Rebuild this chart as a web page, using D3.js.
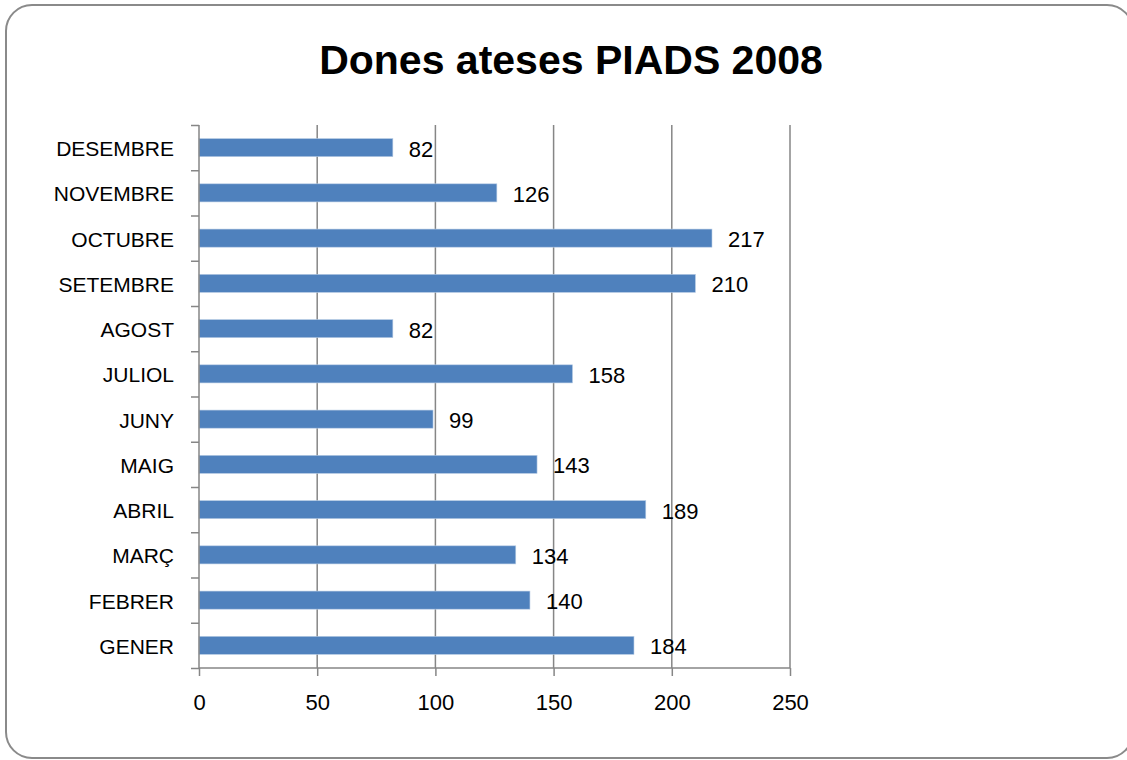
<!DOCTYPE html>
<meta charset="utf-8">
<script src="https://cdn.jsdelivr.net/npm/d3@7/dist/d3.min.js"></script>
<style>
    body { margin: 0; background: #fff; }
    svg text { font-family: "Liberation Sans", Arial, sans-serif; fill: #000; }
</style>
<svg id="chart" width="1127" height="760"></svg>
<script>
    // months from bottom (GENER) to top (DESEMBRE)
    var months = ["GENER", "FEBRER", "MARÇ", "ABRIL", "MAIG", "JUNY",
        "JULIOL", "AGOST", "SETEMBRE", "OCTUBRE", "NOVEMBRE", "DESEMBRE"];
    var values = [184, 140, 134, 189, 143, 99, 158, 82, 210, 217, 126, 82];
    var xTicks = [0, 50, 100, 150, 200, 250];
    var title = "Dones ateses PIADS 2008";

    var svg = d3.select("#chart"),
        margin = { top: 125, right: 337, bottom: 92, left: 199 },
        width = +svg.attr("width") - margin.left - margin.right,
        height = +svg.attr("height") - margin.top - margin.bottom;

    var data = months.map(function(m, i) { return { month: m, value: values[i] }; });

    // chart frame
    svg.append("rect")
        .attr("x", 6).attr("y", 5)
        .attr("width", 1127).attr("height", 753)
        .attr("rx", 26).attr("ry", 26)
        .attr("fill", "#fff")
        .attr("stroke", "#8a8a8a")
        .attr("stroke-width", 2);

    svg.append("text")
        .attr("x", 571).attr("y", 74)
        .attr("text-anchor", "middle")
        .attr("font-size", "41px")
        .attr("font-weight", "bold")
        .text(title);

    var g = svg.append("g").attr("transform", "translate(" + margin.left + "," + margin.top + ")");

    var x = d3.scaleLinear().domain([0, 250]).range([0, width]);

    var y = d3.scaleBand()
        .domain(months)
        .range([height, 0])
        .paddingInner(0.6)
        .paddingOuter(0.3);

    // category boundaries for the left tick marks
    var yEdge = d3.scaleLinear().domain([0, months.length]).range([height, 0]);

    // gridlines
    g.append("g")
        .selectAll("line")
        .data(xTicks.slice(1))
        .join("line")
        .attr("x1", function(d) { return x(d); })
        .attr("x2", function(d) { return x(d); })
        .attr("y1", 0)
        .attr("y2", height)
        .attr("stroke", "#868686")
        .attr("stroke-width", 1.5);

    // bars
    g.append("g")
        .selectAll("rect")
        .data(data)
        .join("rect")
        .attr("x", x(0))
        .attr("y", function(d) { return y(d.month); })
        .attr("width", function(d) { return x(d.value) - x(0); })
        .attr("height", y.bandwidth())
        .attr("fill", "#4f81bd")
        .attr("stroke", "#b9cde5")
        .attr("stroke-width", 0.6);

    // data labels
    g.append("g")
        .selectAll("text")
        .data(data)
        .join("text")
        .attr("x", function(d) { return x(d.value) + 16; })
        .attr("y", function(d) { return y(d.month) + y.bandwidth() / 2 + 1; })
        .attr("dy", "0.36em")
        .attr("font-size", "22px")
        .text(function(d) { return d.value; });

    // left axis: line + ticks between categories
    var leftAxis = g.append("g")
        .call(d3.axisLeft(yEdge).tickValues(d3.range(0, months.length + 1)).tickSize(8).tickFormat(""));
    leftAxis.select(".domain").attr("d", "M0," + height + "V0");
    leftAxis.selectAll("line, path").attr("stroke", "#868686").attr("stroke-width", 1.5);

    // category labels
    g.append("g")
        .selectAll("text")
        .data(months)
        .join("text")
        .attr("x", -25)
        .attr("y", function(d) { return y(d) + y.bandwidth() / 2 + 1; })
        .attr("dy", "0.36em")
        .attr("text-anchor", "end")
        .attr("font-size", "21px")
        .text(function(d) { return d; });

    // bottom axis
    var bottomAxis = g.append("g")
        .attr("transform", "translate(0," + height + ")")
        .call(d3.axisBottom(x).tickValues(xTicks).tickSize(8).tickPadding(18));
    bottomAxis.select(".domain").attr("d", "M0,0H" + width);
    bottomAxis.selectAll("line, path").attr("stroke", "#868686").attr("stroke-width", 1.5);
    bottomAxis.selectAll("text")
        .attr("font-size", "22px")
        .attr("font-family", "Liberation Sans, Arial, sans-serif")
        .attr("fill", "#000");
</script>
